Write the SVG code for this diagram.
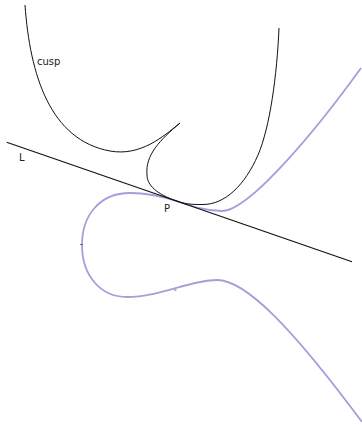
<svg xmlns="http://www.w3.org/2000/svg" width="362" height="425" viewBox="0 0 362 425">
<style>
.lbl{font-family:"DejaVu Sans","Liberation Sans",sans-serif;font-size:10px;fill:#222}
.blk{fill:none;stroke:#111;stroke-width:1}
.blue{fill:none;stroke:#a39fdb;stroke-width:1.8}
</style>
<rect width="362" height="425" fill="#fff"/>
<g id="curve-blue">
<path class="blue" d="M361,68 C320,125 250,211 222,211 C205,211 190,205.5 177,201.2 C164,197 150,193 130,193 C100,193 82,215 82,245 C82,275 100,297 127,297 C160,297 190,280 217,280 C245,280 290,325 362,422"/>
<path d="M80,244.5 h3 M174,290 h2.5" stroke="#555" stroke-width="0.8"/>
</g>
<g id="curve-dual">
<path class="blk" d="M25,5 C30,75 50,140 110,151 C140,156.5 163,137 180,123 C160,140 145,155 147,175 C147,188 163,196.4 177,201.2 C187,204.7 195,204.5 203,204.5 C225,204.5 245,185 258,155 C270,127 277,75 279,28"/>
</g>
<g id="line-L">
<line x1="6.7" y1="142.3" x2="352" y2="261.7" stroke="#111" stroke-width="1.2"/>
</g>
<g id="labels">
<text class="lbl" x="37" y="65">cusp</text>
<text class="lbl" x="19" y="161">L</text>
<text class="lbl" x="164" y="212">P</text>
</g>
</svg>
